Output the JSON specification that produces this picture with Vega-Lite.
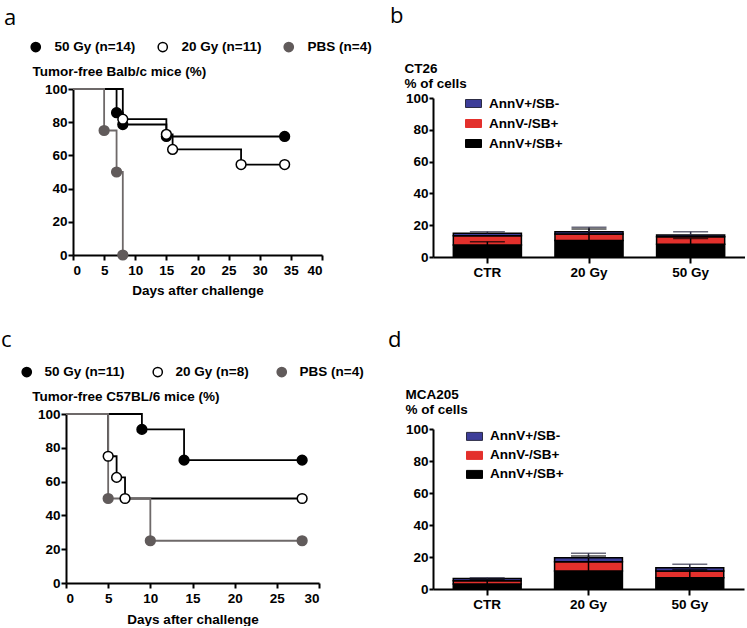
{
  "$schema": "https://vega.github.io/schema/vega-lite/v6.json",
  "padding": {"left": 1, "top": 5, "right": 0, "bottom": 0},
  "config": {
    "view": {"stroke": null},
    "font": "Liberation Sans",
    "axis": {
      "grid": false, "labelOverlap": false, "labelBound": false,
      "labelFont": "Liberation Sans", "labelFontWeight": "bold", "labelFontSize": 13.5, "labelColor": "black",
      "titleFont": "Liberation Sans", "titleFontWeight": "bold", "titleFontSize": 13.5, "titleColor": "black",
      "domainColor": "black", "domainWidth": 2, "tickColor": "black", "tickWidth": 2, "tickSize": 5, "labelPadding": 2
    },
    "legend": {"labelFont": "Liberation Sans", "labelFontWeight": "bold", "labelFontSize": 13.5, "labelColor": "black", "padding": 0},
    "title": {"font": "Open Sans", "fontWeight": "normal", "fontSize": 22, "color": "black", "anchor": "start", "frame": "group", "offset": 0, "baseline": "alphabetic"}
  },
  "datasets": {
    "km_a": [
      {"group": "50 Gy (n=14)", "day": 0, "pct": 100},
      {"group": "50 Gy (n=14)", "day": 7, "pct": 85.7},
      {"group": "50 Gy (n=14)", "day": 8, "pct": 78.6},
      {"group": "50 Gy (n=14)", "day": 15, "pct": 71.4},
      {"group": "50 Gy (n=14)", "day": 34, "pct": 71.4},
      {"group": "20 Gy (n=11)", "day": 0, "pct": 100},
      {"group": "20 Gy (n=11)", "day": 8, "pct": 81.8},
      {"group": "20 Gy (n=11)", "day": 15, "pct": 72.7},
      {"group": "20 Gy (n=11)", "day": 16, "pct": 63.6},
      {"group": "20 Gy (n=11)", "day": 27, "pct": 54.5},
      {"group": "20 Gy (n=11)", "day": 34, "pct": 54.5},
      {"group": "PBS (n=4)", "day": 0, "pct": 100},
      {"group": "PBS (n=4)", "day": 5, "pct": 75},
      {"group": "PBS (n=4)", "day": 7, "pct": 50},
      {"group": "PBS (n=4)", "day": 8, "pct": 0}
    ],
    "km_c": [
      {"group": "50 Gy (n=11)", "day": 0, "pct": 100},
      {"group": "50 Gy (n=11)", "day": 9, "pct": 90.9},
      {"group": "50 Gy (n=11)", "day": 14, "pct": 72.7},
      {"group": "50 Gy (n=11)", "day": 28, "pct": 72.7},
      {"group": "20 Gy (n=8)", "day": 0, "pct": 100},
      {"group": "20 Gy (n=8)", "day": 5, "pct": 75},
      {"group": "20 Gy (n=8)", "day": 6, "pct": 62.5},
      {"group": "20 Gy (n=8)", "day": 7, "pct": 50},
      {"group": "20 Gy (n=8)", "day": 28, "pct": 50},
      {"group": "PBS (n=4)", "day": 0, "pct": 100},
      {"group": "PBS (n=4)", "day": 5, "pct": 50},
      {"group": "PBS (n=4)", "day": 10, "pct": 25},
      {"group": "PBS (n=4)", "day": 28, "pct": 25}
    ],
    "bar_b": [
      {"dose": "CTR", "seg": "AnnV+/SB+", "lo": 0, "hi": 7.5, "errhi": 9.6},
      {"dose": "CTR", "seg": "AnnV-/SB+", "lo": 7.5, "hi": 13.4, "errhi": null},
      {"dose": "CTR", "seg": "AnnV+/SB-", "lo": 13.4, "hi": 14.9, "errhi": 15.9},
      {"dose": "20 Gy", "seg": "AnnV+/SB+", "lo": 0, "hi": 10.3, "errhi": 17.6},
      {"dose": "20 Gy", "seg": "AnnV-/SB+", "lo": 10.3, "hi": 14.5, "errhi": null},
      {"dose": "20 Gy", "seg": "AnnV+/SB-", "lo": 14.5, "hi": 15.9, "errhi": 18.7},
      {"dose": "50 Gy", "seg": "AnnV+/SB+", "lo": 0, "hi": 8.0, "errhi": 11.7},
      {"dose": "50 Gy", "seg": "AnnV-/SB+", "lo": 8.0, "hi": 12.8, "errhi": null},
      {"dose": "50 Gy", "seg": "AnnV+/SB-", "lo": 12.8, "hi": 13.8, "errhi": 15.9}
    ],
    "bar_d": [
      {"dose": "CTR", "seg": "AnnV+/SB+", "lo": 0, "hi": 3.1, "errhi": 5.8},
      {"dose": "CTR", "seg": "AnnV-/SB+", "lo": 3.1, "hi": 5.2, "errhi": null},
      {"dose": "CTR", "seg": "AnnV+/SB-", "lo": 5.2, "hi": 6.6, "errhi": 7.1},
      {"dose": "20 Gy", "seg": "AnnV+/SB+", "lo": 0, "hi": 11.2, "errhi": 20.6},
      {"dose": "20 Gy", "seg": "AnnV-/SB+", "lo": 11.2, "hi": 17.1, "errhi": null},
      {"dose": "20 Gy", "seg": "AnnV+/SB-", "lo": 17.1, "hi": 19.6, "errhi": 22.3},
      {"dose": "50 Gy", "seg": "AnnV+/SB+", "lo": 0, "hi": 7.1, "errhi": 12.0},
      {"dose": "50 Gy", "seg": "AnnV-/SB+", "lo": 7.1, "hi": 11.2, "errhi": null},
      {"dose": "50 Gy", "seg": "AnnV+/SB-", "lo": 11.2, "hi": 13.3, "errhi": 15.4}
    ]
  },
  "columns": 2,
  "align": "none",
  "bounds": "flush",
  "spacing": {"row": 157, "column": 111},
  "resolve": {
    "scale": {"x": "independent", "y": "independent", "color": "independent", "fill": "independent", "stroke": "independent"},
    "axis": {"x": "independent", "y": "independent"},
    "legend": {"color": "independent", "fill": "independent", "stroke": "independent"}
  },
  "concat": [
    {
      "title": {"text": "a", "dx": -62, "dy": -6},
      "width": 256, "height": 166,
      "data": {"name": "km_a"},
      "encoding": {
        "x": {"field": "day", "type": "quantitative", "scale": {"domain": [0, 40], "range": [7, 256]},
              "axis": {"values": [0, 5, 10, 15, 20, 25, 30, 35, 40], "title": "Days after challenge", "titleY": 39, "titleBaseline": "alphabetic", "labelPadding": 3}},
        "y": {"field": "pct", "type": "quantitative", "scale": {"domain": [0, 100]},
              "axis": {"values": [0, 20, 40, 60, 80, 100], "offset": -7, "title": "Tumor-free Balb/c mice (%)", "titleAngle": 0, "titleAlign": "left", "titleBaseline": "alphabetic", "titleX": -41, "titleY": -13.7, "labelPadding": 1}}
      },
      "layer": [
        {"transform": [{"filter": "indexof(datum.group, 'PBS') < 0"}],
         "mark": {"type": "line", "interpolate": "step-after", "color": "black", "strokeWidth": 1.8},
         "encoding": {"detail": {"field": "group"}}},
        {"transform": [{"filter": "indexof(datum.group, 'PBS') >= 0"}],
         "mark": {"type": "line", "interpolate": "step-after", "color": "#6e6969", "strokeWidth": 1.8},
         "encoding": {}},
        {"transform": [{"filter": "datum.day > 0"}],
         "mark": {"type": "point", "shape": "circle", "filled": true, "size": 95, "strokeWidth": 1.5, "opacity": 1},
         "encoding": {
           "fill": {"field": "group", "type": "nominal", "scale": {"domain": ["50 Gy (n=14)", "20 Gy (n=11)", "PBS (n=4)"], "range": ["black", "white", "#615b5b"]},
                    "legend": {"orient": "none", "legendX": -37, "legendY": -49, "direction": "horizontal", "title": null, "symbolType": "circle", "symbolSize": 85, "symbolStrokeWidth": 1.5, "labelOffset": 12, "columnPadding": 19}},
           "stroke": {"field": "group", "type": "nominal", "scale": {"domain": ["50 Gy (n=14)", "20 Gy (n=11)", "PBS (n=4)"], "range": ["black", "black", "#615b5b"]},
                    "legend": {"orient": "none", "legendX": -37, "legendY": -49, "direction": "horizontal", "title": null, "symbolType": "circle", "symbolSize": 85, "symbolStrokeWidth": 1.5, "labelOffset": 12, "columnPadding": 19}}
         }}
      ]
    },
    {
      "title": {"text": "b", "dx": -43, "dy": -29},
      "width": 312, "height": 168,
      "data": {"name": "bar_b"},
      "encoding": {
        "x": {"field": "dose", "type": "nominal", "sort": ["CTR", "20 Gy", "50 Gy"], "scale": {"paddingInner": 0.33, "paddingOuter": 0.2},
              "axis": {"title": null, "labelAngle": 0, "tickSize": 6, "labelPadding": 2}}
      },
      "layer": [
        {"mark": {"type": "bar", "stroke": "black", "strokeWidth": 1.5},
         "encoding": {
           "y": {"field": "lo", "type": "quantitative", "scale": {"domain": [0, 100], "range": [168, 9]},
                 "axis": {"values": [0, 20, 40, 60, 80, 100], "labelOverlap": false, "tickSize": 4, "labelPadding": 1, "title": ["CT26", "% of cells"], "titleAngle": 0, "titleAlign": "left", "titleBaseline": "top", "titleX": -29, "titleY": -27.7, "titleLineHeight": 15}},
           "y2": {"field": "hi"},
           "color": {"field": "seg", "type": "nominal", "scale": {"domain": ["AnnV+/SB-", "AnnV-/SB+", "AnnV+/SB+"], "range": ["#3d3d99", "#e3302c", "#000000"]},
                     "legend": {"orient": "none", "legendX": 32, "legendY": 6, "title": null, "symbolType": "M-1,-0.5H1V0.5H-1Z", "symbolSize": 256, "symbolStrokeColor": "#222", "symbolStrokeWidth": 1, "labelOffset": 7, "rowPadding": 5}}
         }},
        {"transform": [{"filter": "datum.errhi != null"}],
         "mark": {"type": "rule", "strokeWidth": 1.5},
         "encoding": {
           "y": {"field": "hi", "type": "quantitative", "scale": {"domain": [0, 100], "range": [168, 9]},
                 "axis": {"values": [0, 20, 40, 60, 80, 100], "labelOverlap": false, "tickSize": 4, "labelPadding": 1, "title": ["CT26", "% of cells"], "titleAngle": 0, "titleAlign": "left", "titleBaseline": "top", "titleX": -29, "titleY": -27.7, "titleLineHeight": 15}},
           "y2": {"field": "errhi"},
           "stroke": {"field": "seg", "type": "nominal", "scale": {"domain": ["AnnV+/SB-", "AnnV-/SB+", "AnnV+/SB+"], "range": ["#2c2c44", "#e3302c", "#000000"]}, "legend": null}
         }},
        {"transform": [{"filter": "datum.errhi != null"}],
         "mark": {"type": "tick", "thickness": 1.5, "size": 35, "orient": "horizontal"},
         "encoding": {
           "y": {"field": "errhi", "type": "quantitative", "scale": {"domain": [0, 100], "range": [168, 9]},
                 "axis": {"values": [0, 20, 40, 60, 80, 100], "labelOverlap": false, "tickSize": 4, "labelPadding": 1, "title": ["CT26", "% of cells"], "titleAngle": 0, "titleAlign": "left", "titleBaseline": "top", "titleX": -29, "titleY": -27.7, "titleLineHeight": 15}},
           "fill": {"field": "seg", "type": "nominal", "scale": {"domain": ["AnnV+/SB-", "AnnV-/SB+", "AnnV+/SB+"], "range": ["#2c2c44", "#e3302c", "#000000"]}, "legend": null}
         }}
      ]
    },
    {
      "title": {"text": "c", "dx": -65, "dy": -9},
      "width": 255, "height": 169,
      "data": {"name": "km_c"},
      "encoding": {
        "x": {"field": "day", "type": "quantitative", "scale": {"domain": [0, 30], "range": [0, 253]},
              "axis": {"values": [0, 5, 10, 15, 20, 25, 30], "title": "Days after challenge", "titleY": 40, "titleBaseline": "alphabetic", "labelPadding": 3}},
        "y": {"field": "pct", "type": "quantitative", "scale": {"domain": [0, 100]},
              "axis": {"values": [0, 20, 40, 60, 80, 100], "title": "Tumor-free C57BL/6 mice (%)", "titleAngle": 0, "titleAlign": "left", "titleBaseline": "alphabetic", "titleX": -34.3, "titleY": -13.3, "labelPadding": 1}}
      },
      "layer": [
        {"transform": [{"filter": "indexof(datum.group, 'PBS') < 0"}],
         "mark": {"type": "line", "interpolate": "step-after", "color": "black", "strokeWidth": 1.8},
         "encoding": {"detail": {"field": "group"}}},
        {"transform": [{"filter": "indexof(datum.group, 'PBS') >= 0"}],
         "mark": {"type": "line", "interpolate": "step-after", "color": "#6e6969", "strokeWidth": 1.8},
         "encoding": {}},
        {"transform": [{"filter": "datum.day > 0"}],
         "mark": {"type": "point", "shape": "circle", "filled": true, "size": 95, "strokeWidth": 1.5, "opacity": 1},
         "encoding": {
           "fill": {"field": "group", "type": "nominal", "scale": {"domain": ["50 Gy (n=11)", "20 Gy (n=8)", "PBS (n=4)"], "range": ["black", "white", "#615b5b"]},
                    "legend": {"orient": "none", "legendX": -46, "legendY": -49, "direction": "horizontal", "title": null, "symbolType": "circle", "symbolSize": 85, "symbolStrokeWidth": 1.5, "labelOffset": 11, "columnPadding": 25}},
           "stroke": {"field": "group", "type": "nominal", "scale": {"domain": ["50 Gy (n=11)", "20 Gy (n=8)", "PBS (n=4)"], "range": ["black", "black", "#615b5b"]},
                    "legend": {"orient": "none", "legendX": -46, "legendY": -49, "direction": "horizontal", "title": null, "symbolType": "circle", "symbolSize": 85, "symbolStrokeWidth": 1.5, "labelOffset": 11, "columnPadding": 25}}
         }}
      ]
    },
    {
      "title": {"text": "d", "dx": -45, "dy": -31},
      "width": 311, "height": 175,
      "data": {"name": "bar_d"},
      "encoding": {
        "x": {"field": "dose", "type": "nominal", "sort": ["CTR", "20 Gy", "50 Gy"], "scale": {"paddingInner": 0.33, "paddingOuter": 0.2},
              "axis": {"title": null, "labelAngle": 0, "tickSize": 6, "labelPadding": 2}}
      },
      "layer": [
        {"mark": {"type": "bar", "stroke": "black", "strokeWidth": 1.5},
         "encoding": {
           "y": {"field": "lo", "type": "quantitative", "scale": {"domain": [0, 100], "range": [175, 15]},
                 "axis": {"values": [0, 20, 40, 60, 80, 100], "labelOverlap": false, "tickSize": 4, "labelPadding": 1, "title": ["MCA205", "% of cells"], "titleAngle": 0, "titleAlign": "left", "titleBaseline": "top", "titleX": -28, "titleY": -27, "titleLineHeight": 15}},
           "y2": {"field": "hi"},
           "color": {"field": "seg", "type": "nominal", "scale": {"domain": ["AnnV+/SB-", "AnnV-/SB+", "AnnV+/SB+"], "range": ["#3d3d99", "#e3302c", "#000000"]},
                     "legend": {"orient": "none", "legendX": 33, "legendY": 13.9, "title": null, "symbolType": "M-1,-0.5H1V0.5H-1Z", "symbolSize": 256, "symbolStrokeColor": "#222", "symbolStrokeWidth": 1, "labelOffset": 7, "rowPadding": 4}}
         }},
        {"transform": [{"filter": "datum.errhi != null"}],
         "mark": {"type": "rule", "strokeWidth": 1.5},
         "encoding": {
           "y": {"field": "hi", "type": "quantitative", "scale": {"domain": [0, 100], "range": [175, 15]},
                 "axis": {"values": [0, 20, 40, 60, 80, 100], "labelOverlap": false, "tickSize": 4, "labelPadding": 1, "title": ["MCA205", "% of cells"], "titleAngle": 0, "titleAlign": "left", "titleBaseline": "top", "titleX": -28, "titleY": -27, "titleLineHeight": 15}},
           "y2": {"field": "errhi"},
           "stroke": {"field": "seg", "type": "nominal", "scale": {"domain": ["AnnV+/SB-", "AnnV-/SB+", "AnnV+/SB+"], "range": ["#2c2c44", "#e3302c", "#000000"]}, "legend": null}
         }},
        {"transform": [{"filter": "datum.errhi != null"}],
         "mark": {"type": "tick", "thickness": 1.5, "size": 35, "orient": "horizontal"},
         "encoding": {
           "y": {"field": "errhi", "type": "quantitative", "scale": {"domain": [0, 100], "range": [175, 15]},
                 "axis": {"values": [0, 20, 40, 60, 80, 100], "labelOverlap": false, "tickSize": 4, "labelPadding": 1, "title": ["MCA205", "% of cells"], "titleAngle": 0, "titleAlign": "left", "titleBaseline": "top", "titleX": -28, "titleY": -27, "titleLineHeight": 15}},
           "fill": {"field": "seg", "type": "nominal", "scale": {"domain": ["AnnV+/SB-", "AnnV-/SB+", "AnnV+/SB+"], "range": ["#2c2c44", "#e3302c", "#000000"]}, "legend": null}
         }}
      ]
    }
  ]
}
